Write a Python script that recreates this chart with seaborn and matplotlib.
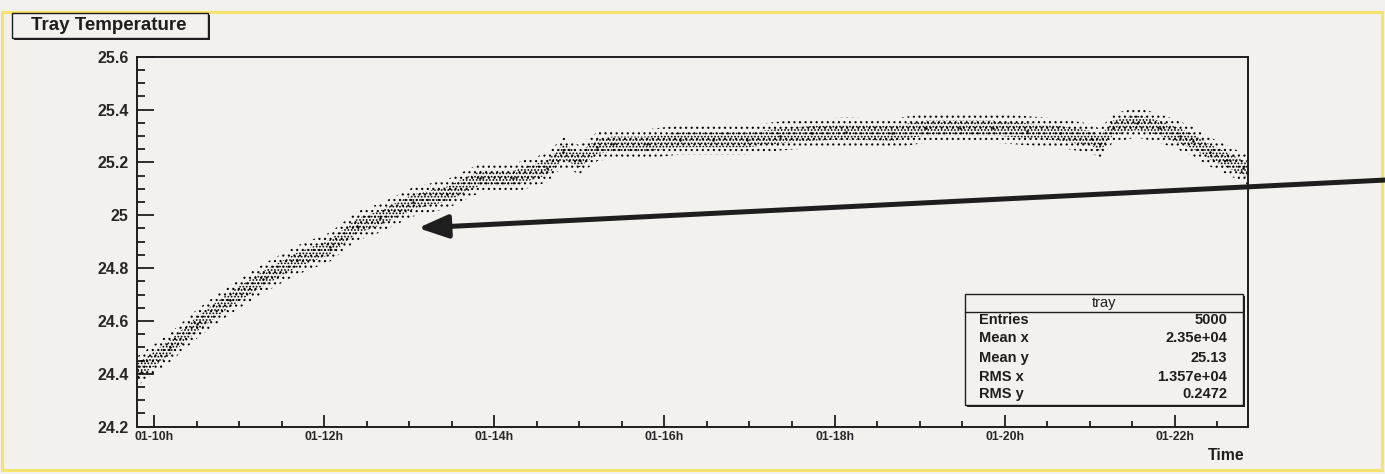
import matplotlib
matplotlib.use('Agg')
import matplotlib.pyplot as plt
from matplotlib.patches import Rectangle, FancyArrowPatch
from matplotlib.ticker import MultipleLocator, FuncFormatter, FixedLocator
import seaborn as sns

# tray temperature (hour of day 01, deg)
hours = [9.80, 10.19, 10.51, 10.89, 11.28, 11.68, 12.07, 12.39, 12.66, 13.04,
         13.44, 13.83, 14.22, 14.62, 14.81, 15.00, 15.21, 15.39, 15.79, 16.18,
         16.57, 16.97, 17.36, 17.74, 18.14, 18.68, 19.08, 19.47, 19.86, 20.26,
         20.65, 21.03, 21.12, 21.27, 21.55, 21.82, 22.06, 22.21, 22.41, 22.61,
         22.80, 22.86]
temp = [24.41, 24.50, 24.59, 24.68, 24.76, 24.83, 24.88, 24.96, 24.99, 25.05,
        25.08, 25.14, 25.14, 25.18, 25.24, 25.21, 25.26, 25.27, 25.27, 25.285,
        25.285, 25.285, 25.30, 25.31, 25.315, 25.31, 25.33, 25.33, 25.33, 25.32,
        25.31, 25.29, 25.27, 25.33, 25.35, 25.33, 25.30, 25.28, 25.24, 25.21,
        25.18, 25.17]
core_spread = 0.028
outer_spread = 0.055

tick_hours = [10, 12, 14, 16, 18, 20, 22]
tick_labels = ['01-10h', '01-12h', '01-14h', '01-16h', '01-18h', '01-20h', '01-22h']

stat_names = ['Entries', 'Mean x', 'Mean y', 'RMS x', 'RMS y']
stat_values = ['5000', '2.35e+04', '25.13', '1.357e+04', '0.2472']

W, H = 1385, 474
bg = '#f2f1ed'
ink = '#1e1e1e'


def fx(x):
    return x / W


def fy(y):
    return 1 - y / H


sns.set_style('ticks')
plt.rcParams['font.family'] = ['Liberation Sans', 'DejaVu Sans']
plt.rcParams['font.weight'] = 'bold'
plt.rcParams['hatch.linewidth'] = 0.8

fig = plt.figure(figsize=(W / 100, H / 100), dpi=100, facecolor=bg)
ax = fig.add_axes([fx(137), fy(426.7), fx(1248) - fx(137), fy(56.7) - fy(426.7)])
ax.set_facecolor(bg)

# the cloud of points as dotted bands plus the read points
lo_out = [t - outer_spread for t in temp]
hi_out = [t + outer_spread for t in temp]
lo_core = [t - core_spread for t in temp]
hi_core = [t + core_spread for t in temp]
ax.fill_between(hours, lo_out, hi_out, facecolor='none', edgecolor='black',
                linewidth=0, hatch='...')
ax.fill_between(hours, lo_core, hi_core, facecolor='none', edgecolor='black',
                linewidth=0, hatch='.....')
sns.scatterplot(x=hours, y=temp, s=3, color='black', linewidth=0, ax=ax)

ax.set_xlim(9.80, 22.86)
ax.set_ylim(24.2, 25.6)

for side in ['left', 'right', 'top', 'bottom']:
    ax.spines[side].set_color(ink)
    ax.spines[side].set_linewidth(1.4)

ax.yaxis.set_major_locator(MultipleLocator(0.2))
ax.yaxis.set_minor_locator(MultipleLocator(0.05))
ax.yaxis.set_major_formatter(FuncFormatter(lambda v, p: f'{v:g}'))
ax.xaxis.set_major_locator(FixedLocator(tick_hours))
ax.set_xticklabels(tick_labels)
ax.xaxis.set_minor_locator(MultipleLocator(0.5))

ax.tick_params(axis='y', which='major', direction='in', length=12.2, width=1.3,
               color=ink, labelsize=11.5, pad=6, left=True, right=False)
ax.tick_params(axis='y', which='minor', direction='in', length=6.1, width=1.3,
               color=ink, left=True, right=False)
ax.tick_params(axis='x', which='major', direction='in', length=8.8, width=1.3,
               color=ink, labelsize=8.8, pad=3, bottom=True, top=False)
ax.tick_params(axis='x', which='minor', direction='in', length=4.3, width=1.3,
               color=ink, bottom=True, top=False)
ax.set_xlabel('')
ax.set_ylabel('')

fig.text(fx(1245), fy(455), 'Time', ha='right', va='center', fontsize=11.4, color=ink)

# stats box
fig.add_artist(Rectangle((fx(967), fy(407)), fx(278), fy(294) - fy(405),
                         transform=fig.transFigure, facecolor=ink, edgecolor='none'))
fig.add_artist(Rectangle((fx(965), fy(405)), fx(278), fy(294) - fy(405),
                         transform=fig.transFigure, facecolor=bg, edgecolor=ink, lw=1))
fig.add_artist(plt.Line2D([fx(965), fx(1243)], [fy(312), fy(312)],
                          transform=fig.transFigure, color=ink, lw=1))
fig.text(fx(1104), fy(303), 'tray', ha='center', va='center', fontsize=10.5,
         fontweight='normal', color=ink)
rows_y = [320, 338, 358, 377, 394]
for name, val, y in zip(stat_names, stat_values, rows_y):
    fig.text(fx(979), fy(y), name, ha='left', va='center', fontsize=10.5, color=ink)
    fig.text(fx(1227), fy(y), val, ha='right', va='center', fontsize=10.5, color=ink)

# title box
fig.add_artist(Rectangle((fx(14), fy(40)), fx(196), fy(13) - fy(38),
                         transform=fig.transFigure, facecolor=ink, edgecolor='none'))
fig.add_artist(Rectangle((fx(12), fy(38)), fx(196), fy(13) - fy(38),
                         transform=fig.transFigure, facecolor=bg, edgecolor=ink, lw=1))
fig.text(fx(109), fy(25.5), 'Tray Temperature', ha='center', va='center',
         fontsize=13.5, color=ink)

# yellow frame
fig.add_artist(Rectangle((fx(2), fy(470)), fx(1382) - fx(2), fy(12) - fy(470),
                         transform=fig.transFigure, facecolor='none',
                         edgecolor='#f4e36c', lw=2.2, zorder=0))

# arrow pointing at the curve
arrow = FancyArrowPatch((fx(1386), fy(180)), (fx(418), fy(228)),
                        transform=fig.transFigure,
                        arrowstyle='-|>,head_length=0.9,head_width=0.35',
                        mutation_scale=20, lw=3.6, color=ink,
                        shrinkA=0, shrinkB=0, zorder=10)
fig.add_artist(arrow)

fig.savefig('out.png', dpi=100, facecolor=bg)
